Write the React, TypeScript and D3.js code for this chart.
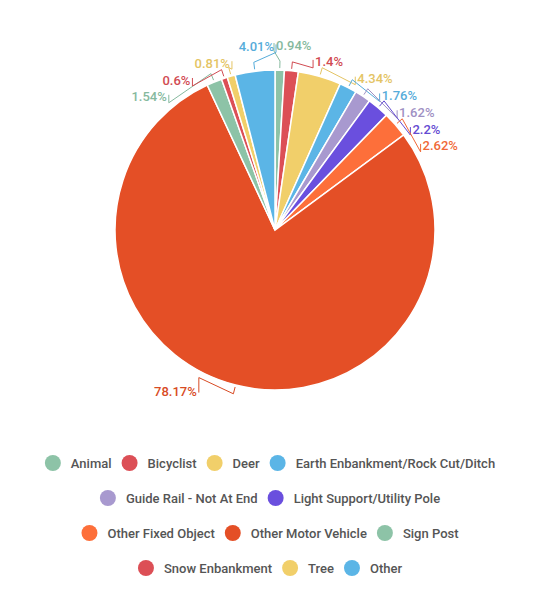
import React, { useEffect, useRef } from 'react';
import * as d3 from 'd3';

const categories = [
  'Animal', 'Bicyclist', 'Deer', 'Earth Enbankment/Rock Cut/Ditch',
  'Guide Rail - Not At End', 'Light Support/Utility Pole', 'Other Fixed Object',
  'Other Motor Vehicle', 'Sign Post', 'Snow Enbankment', 'Tree', 'Other',
];
const values = [0.94, 1.4, 4.34, 1.76, 1.62, 2.2, 2.62, 78.17, 1.54, 0.6, 0.81, 4.01];
const colors = [
  '#8dc3a7', '#dc4f56', '#f1cf6a', '#5bb5e6', '#a899cf', '#6a4fde',
  '#fd6f3a', '#e44f26', '#8dc3a7', '#dc4f56', '#f1cf6a', '#5bb5e6',
];

const FONT = 'Roboto, "Noto Sans", sans-serif';

export default function App() {
  const ref = useRef<SVGSVGElement>(null);
  useEffect(() => {
    const svg = d3.select(ref.current);
    svg.selectAll('*').remove();
    const cx = 275, cy = 230, r = 160;
    const data = categories.map((c, i) => ({ c, v: values[i], color: colors[i] }));
    const arcs = d3.pie<any>().value((d: any) => d.v).sort(null)(data);
    const arc = d3.arc<any>().innerRadius(0).outerRadius(r);
    const g = svg.append('g').attr('transform', `translate(${cx},${cy})`);
    g.selectAll('path.slice').data(arcs).join('path')
      .attr('class', 'slice')
      .attr('d', arc as any)
      .attr('fill', (d: any) => d.data.color)
      .attr('stroke', '#fff').attr('stroke-width', 1.5);

    // label layout
    const R_Y = 176, RX = 167, SP = 16.8;
    const labs = arcs.map((a: any) => {
      const t = (a.startAngle + a.endAngle) / 2;
      const upper = Math.cos(t) > 0;
      const right = Math.sin(t) >= 0;
      return { a, t, upper, right, y: -R_Y * Math.cos(t) - 9, x: 0, cornerY: 0 };
    });
    const groups = [
      labs.filter(l => l.upper && l.right).sort((p, q) => p.t - q.t),
      labs.filter(l => l.upper && !l.right).sort((p, q) => q.t - p.t),
    ];
    groups.forEach(gr => {
      for (let i = 1; i < gr.length; i++) gr[i].y = Math.max(gr[i].y, gr[i - 1].y + SP);
    });
    const lowGroups = [
      labs.filter(l => !l.upper && !l.right).sort((p, q) => p.t - q.t),
      labs.filter(l => !l.upper && l.right).sort((p, q) => q.t - p.t),
    ];
    lowGroups.forEach(gr => {
      for (let i = 1; i < gr.length; i++) gr[i].y = Math.min(gr[i].y, gr[i - 1].y - SP);
    });
    labs.forEach(l => {
      l.cornerY = l.upper ? l.y + 6 : l.y - 14;
      const dx = Math.sqrt(Math.max(0, RX * RX - l.cornerY * l.cornerY));
      l.x = l.right ? Math.max(dx, 1) : -Math.max(dx, 1);
    });
    const polar = (rad: number, t: number) => [rad * Math.sin(t), -rad * Math.cos(t)];
    labs.forEach(l => {
      const col = d3.color(l.a.data.color)!.darker(0.15).formatHex();
      const p1 = polar(r + 2, l.t);
      const p2 = polar(r + 9, l.t);
      const lx = l.x + (l.right ? -2 : 2);
      const pts = l.upper
        ? [p1, p2, [lx, l.cornerY], [lx, l.y - 2]]
        : [p1, p2, [lx, l.cornerY], [lx, l.y + 1]];
      g.append('path')
        .attr('d', d3.line()(pts as any))
        .attr('fill', 'none').attr('stroke', col).attr('stroke-width', 1);
      g.append('text')
        .attr('x', l.x).attr('y', l.y)
        .attr('dy', '0.35em')
        .attr('text-anchor', l.right ? 'start' : 'end')
        .attr('font-family', FONT).attr('font-size', 13).attr('font-weight', 500)
        .attr('fill', col)
        .text(`${l.a.data.v}%`);
    });

    // legend
    const lg = svg.append('g');
    const widths = categories.map(c => {
      const t = lg.append('text').attr('font-family', FONT).attr('font-size', 13)
        .attr('font-weight', 500).text(c);
      const w = (t.node() as SVGTextElement).getComputedTextLength();
      t.remove();
      return w;
    });
    const CIRC = 16, TGAP = 10, IGAP = 10, MAXW = 460;
    const itemW = (i: number) => CIRC + TGAP + widths[i];
    const rows: number[][] = [];
    let cur: number[] = [], curW = 0;
    categories.forEach((_, i) => {
      const w = itemW(i) + (cur.length ? IGAP : 0);
      if (cur.length && curW + w > MAXW) { rows.push(cur); cur = [i]; curW = itemW(i); }
      else { cur.push(i); curW += w; }
    });
    if (cur.length) rows.push(cur);
    rows.forEach((row, ri) => {
      const total = row.reduce((s, i) => s + itemW(i), 0) + IGAP * (row.length - 1);
      let x = 270 - total / 2;
      const y = 463 + ri * 35;
      row.forEach(i => {
        lg.append('circle').attr('cx', x + 8).attr('cy', y).attr('r', 8).attr('fill', colors[i]);
        lg.append('text').attr('x', x + CIRC + TGAP).attr('y', y).attr('dy', '0.35em')
          .attr('font-family', FONT).attr('font-size', 13).attr('font-weight', 500)
          .attr('fill', '#555').text(categories[i]);
        x += itemW(i) + IGAP;
      });
    });
  }, []);
  return (
    <svg ref={ref} width={550} height={612}
      style={{ position: 'absolute', left: 0, top: 0, background: '#fff' }} />
  );
}
